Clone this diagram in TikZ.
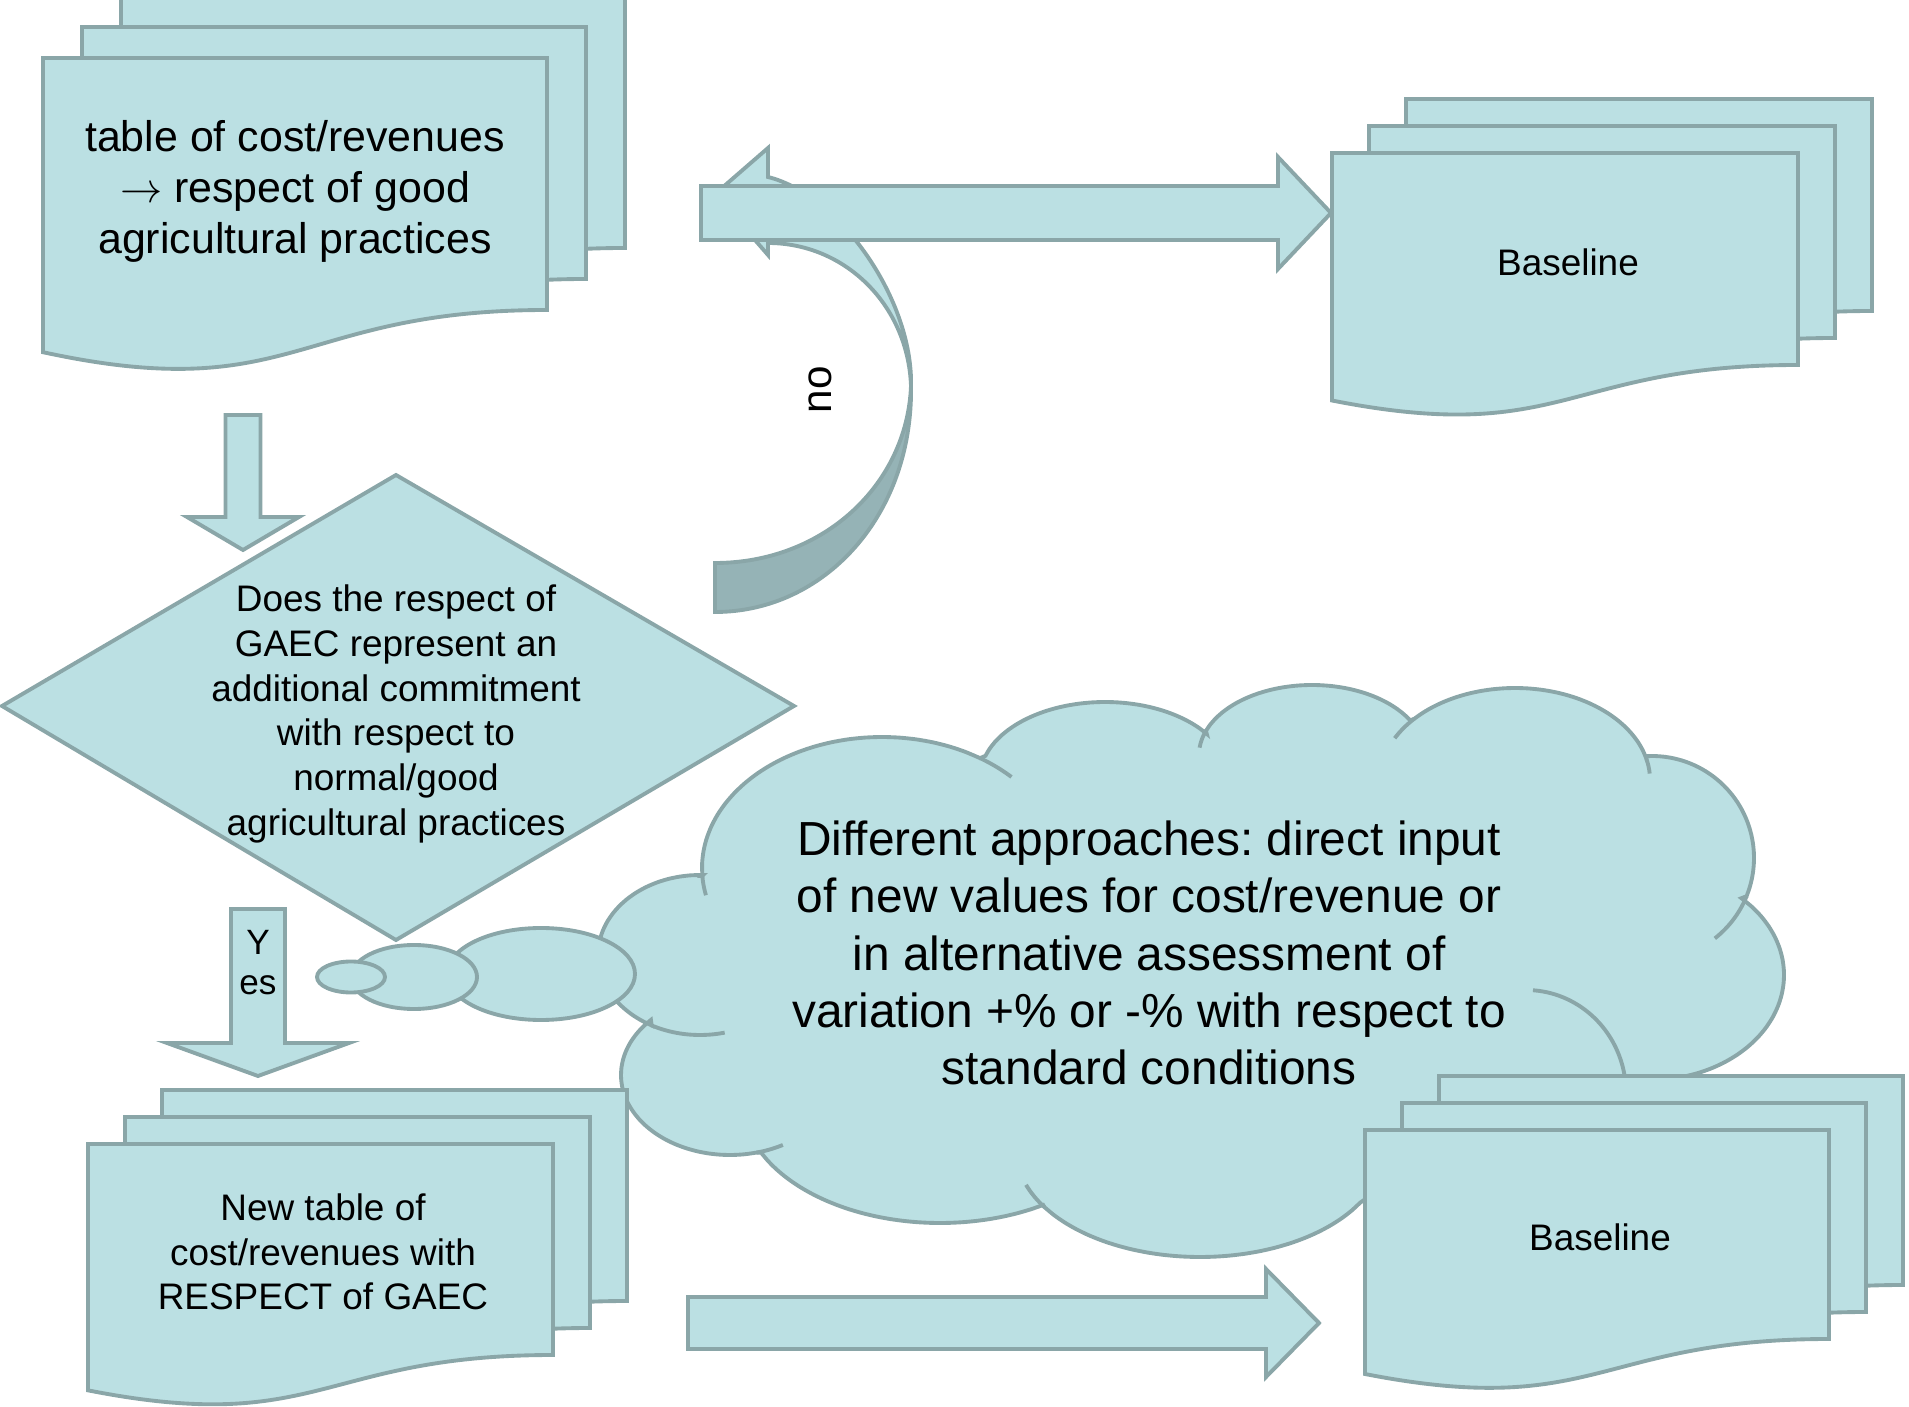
\documentclass[tikz,border=0pt]{standalone}
\usepackage{fontspec}
\setmainfont{Liberation Sans}
\usetikzlibrary{calc}
\frenchspacing

\definecolor{sheetfill}{RGB}{187,224,227}
\definecolor{sheetedge}{RGB}{138,166,168}
\definecolor{sheetdark}{RGB}{149,179,182}

\tikzset{
  sheet/.style={fill=sheetfill, draw=sheetedge, line width=1.1pt},
  darksheet/.style={fill=sheetdark, draw=sheetedge, line width=1.1pt},
  crease/.style={draw=sheetedge, line width=1.1pt},
  txt/.style={align=center, inner sep=0pt},
}

% one sheet of a document: left, top, width, height of the right side
\newcommand{\docpage}[4]{%
  \filldraw[sheet] ({#1},{#2}) -- ({#1+#3},{#2}) -- ({#1+#3},{#2+#4})
    .. controls ({#1+0.5*#3},{#2+#4}) and ({#1+0.5*#3},{#2+1.384*#4}) .. ({#1},{#2+1.1675*#4}) -- cycle;}
% three sheets, the ones behind shifted by (#5,#6)
\newcommand{\multidoc}[6]{%
  \docpage{#1+2*(#5)}{#2+2*(#6)}{#3}{#4}
  \docpage{#1+(#5)}{#2+(#6)}{#3}{#4}
  \docpage{#1}{#2}{#3}{#4}}
% block arrows from #1 to the tip #2: half body #3, half head #4, head length #5
\newcommand{\blockright}[5]{%
  \filldraw[sheet] ($(#1)+(0,-#3)$) -- ($(#2)+(-#5,-#3)$) -- ($(#2)+(-#5,-#4)$) -- (#2)
    -- ($(#2)+(-#5,#4)$) -- ($(#2)+(-#5,#3)$) -- ($(#1)+(0,#3)$) -- cycle;}
\newcommand{\blockdown}[5]{%
  \filldraw[sheet] ($(#1)+(-#3,0)$) -- ($(#2)+(-#3,-#5)$) -- ($(#2)+(-#4,-#5)$) -- (#2)
    -- ($(#2)+(#4,-#5)$) -- ($(#2)+(#3,-#5)$) -- ($(#1)+(#3,0)$) -- cycle;}
% arc of one lobe of the cloud: centre, radii, from angle #5 to #6
\newcommand{\lobearc}[6]{plot[domain=#5:#6, variable=\t, samples=24, smooth] ({#1+#3*cos(\t)},{#2+#4*sin(\t)})}
\newcommand{\lobe}[6]{-- plot[domain=#5:#6, variable=\t, samples=24, smooth] ({#1+#3*cos(\t)},{#2+#4*sin(\t)})}

\begin{document}
\begin{tikzpicture}[x=0.01cm, y=-0.01cm]
  \useasboundingbox (0,0) rectangle (1909,1407);

  % the cloud, lobe by lobe
  \filldraw[sheet] (702,876)
    \lobe{882}{868}{180}{131}{176.5}{303}
    \lobe{1105}{778}{125}{76}{197}{324.5}
    \lobe{1312}{755}{113}{70}{200.2}{330.3}
    \lobe{1515}{780}{135}{92}{221.6}{346.8}
    \lobe{1652}{858}{102}{102}{267}{382}
    \lobe{1650}{975}{134}{105}{313}{460.8}
    -- (1500,1130) -- (1400,1175)
    \lobe{1200}{1150}{184}{107}{29.5}{147.7}
    \lobe{940}{1100}{198}{123}{58.6}{154.6}
    \lobe{730}{1075}{109}{80}{75.9}{223.5}
    \lobe{700}{955}{102}{80}{118.3}{271.7}
    -- cycle;
  % small folds inside the cloud
  \draw[crease] \lobearc{882}{868}{180}{131}{168}{176.5};
  \draw[crease] \lobearc{882}{868}{180}{131}{303}{316};
  \draw[crease] \lobearc{1312}{755}{113}{70}{186}{200.2};
  \draw[crease] \lobearc{1515}{780}{135}{92}{207}{221.6};
  \draw[crease] \lobearc{1515}{780}{135}{92}{346.8}{356};
  \draw[crease] \lobearc{1652}{858}{102}{102}{22}{52};
  \draw[crease] \lobearc{1200}{1150}{184}{107}{147.7}{161};
  \draw[crease] \lobearc{730}{1075}{109}{80}{61}{75.9};
  \draw[crease] \lobearc{700}{955}{102}{80}{76}{118.3};
  \draw[crease] \lobearc{1526}{1093}{100}{103}{274}{355};
  % bubbles of the callout
  \filldraw[sheet] (541,974) ellipse [x radius=94, y radius=46];
  \filldraw[sheet] (414,977) ellipse [x radius=63, y radius=32];
  \filldraw[sheet] (351,977) ellipse [x radius=34, y radius=15.5];

  % documents on the left
  \multidoc{43}{58}{504}{252}{39}{-31}
  \multidoc{88}{1144}{465}{211}{37}{-27}

  % decision
  \filldraw[sheet] (2,706) -- (396,475) -- (794,706) -- (396,940) -- cycle;

  % arrows down
  \coordinate (d1s) at (243,415);
  \coordinate (d1t) at (243,550);
  \blockdown{d1s}{d1t}{17.5}{56}{33}
  \coordinate (d2s) at (258,909);
  \coordinate (d2t) at (258,1076);
  \blockdown{d2s}{d2t}{27}{91}{33}

  % documents on the right
  \multidoc{1365}{1130}{464}{209}{37}{-27}
  \multidoc{1332}{153}{466}{212}{37}{-27}

  % curved arrow back to the first table
  \filldraw[darksheet] (911,386) .. controls (907,485) and (823,563) .. (715,563)
    -- (715,612) .. controls (824,612) and (913,516) .. (911,386) -- cycle;
  \filldraw[sheet] (911,386) .. controls (913,300) and (840,195) .. (768,177)
    -- (768,148) -- (715,194) -- (768,255) -- (768,243)
    .. controls (845,243) and (908,305) .. (911,386) -- cycle;

  % arrows right
  \coordinate (r1s) at (701,213);
  \coordinate (r1t) at (1331,213);
  \blockright{r1s}{r1t}{27}{56}{53}
  \coordinate (r2s) at (688,1323);
  \coordinate (r2t) at (1319,1323);
  \blockright{r2s}{r2t}{26}{54}{53}

  % texts
  \node[txt, font=\fontsize{12.2}{14.5}\selectfont] (tabcost) at (295,191)
    {table of cost/revenues\\ $\rightarrow$ respect of good\\ agricultural practices};
  \node[txt, font=\fontsize{10.5}{12.7}\selectfont] (gaec) at (396,714)
    {Does the respect of\\ GAEC represent an\\ additional commitment\\ with respect to\\ normal/good\\ agricultural practices};
  \node[txt, font=\fontsize{10}{11.4}\selectfont] (yes) at (258,963) {Y\\ es};
  \node[txt, font=\fontsize{10.5}{12.6}\selectfont] (newtab) at (323,1252)
    {New table of\\ cost/revenues with\\ RESPECT of GAEC};
  \node[txt, font=\fontsize{10.5}{12.6}\selectfont] (base1) at (1568,262) {Baseline};
  \node[txt, font=\fontsize{10.5}{12.6}\selectfont] (base2) at (1600,1237) {Baseline};
  \node[txt, font=\fontsize{12}{14}\selectfont, rotate=90] (no) at (820,390) {no};
  \node[txt, font=\fontsize{13.6}{16.3}\selectfont] (approach) at (1149,953)
    {Different approaches: direct input\\ of new values for cost/revenue or\\ in alternative assessment of\\ variation +\% or -\% with respect to\\ standard conditions};
\end{tikzpicture}
\end{document}
